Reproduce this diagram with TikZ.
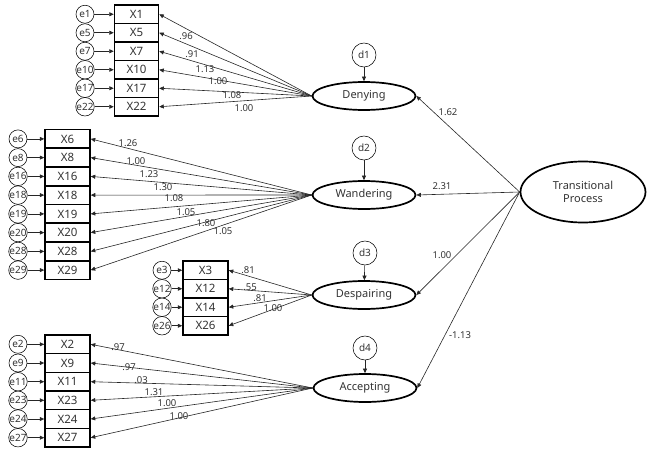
\documentclass[tikz,border=0pt]{standalone}
\usepackage{fontspec}
\setmainfont{Noto Sans}
\usetikzlibrary{arrows.meta,shapes.geometric}
\begin{document}
\begin{tikzpicture}[x=1pt,y=-1pt,
  obs/.style={draw, line width=1.5pt, minimum width=44pt, minimum height=18.6pt, inner sep=0pt, font=\fontsize{11.5}{12}\selectfont, text=black!80},
  err/.style={draw, circle, line width=0.55pt, minimum size=18pt, inner sep=0pt, font=\fontsize{10}{10}\selectfont, text=black!80},
  dist/.style={draw, circle, line width=0.55pt, minimum size=24pt, inner sep=0pt, font=\fontsize{10}{10}\selectfont, text=black!80},
  lat/.style={draw, ellipse, line width=1.7pt, minimum width=103pt, minimum height=28pt, inner sep=0pt, font=\fontsize{11}{13}\selectfont, text=black!80},
  arr/.style={-{Triangle[length=4.5pt,width=4pt]}, line width=0.6pt, draw=black!85},
  coef/.style={font=\fontsize{9.5}{10}\selectfont, text=black!80, inner sep=0pt},
]
\useasboundingbox (0,0) rectangle (651,455);

% latent variables
\node[lat] (den) at (364,96) {Denying};
\node[lat] (wan) at (364,195) {Wandering};
\node[lat] (des) at (364,295) {Despairing};
\node[lat] (acc) at (365,388) {Accepting};
\node[lat, minimum width=125pt, minimum height=61pt, align=center] (tp) at (583,192) {Transitional\\Process};

% disturbances
\node[dist] (d1) at (364,55) {d1};
\node[dist] (d2) at (364,148) {d2};
\node[dist] (d3) at (365,253) {d3};
\node[dist] (d4) at (365,348) {d4};
\draw[arr] (d1) -- (den);
\draw[arr] (d2) -- (wan);
\draw[arr] (d3) -- (des);
\draw[arr] (d4) -- (acc);

% structural paths
\draw[arr] (tp.west) -- (den.east);
\draw[arr] (tp.west) -- (wan.east);
\draw[arr] (tp.west) -- (des.east);
\draw[arr] (tp.west) -- (acc.east);

% Denying indicators
\foreach \n/\y in {1/14.25, 5/32.75, 7/51.25, 10/69.75, 17/88.25, 22/106.75} {
  \node[obs] (x\n) at (136.5,\y) {X\n};
  \node[err] (e\n) at (85,\y) {e\n};
  \draw[arr] (e\n) -- (x\n);
  \draw[arr] (den.west) -- (x\n.east);
}
% Wandering indicators
\foreach \n/\y in {6/138.9, 8/157.6, 16/176.4, 18/195.1, 19/213.9, 20/232.6, 28/251.4, 29/270.1} {
  \node[obs, minimum width=45pt] (x\n) at (67.5,\y) {X\n};
  \node[err] (e\n) at (18,\y) {e\n};
  \draw[arr] (e\n) -- (x\n);
  \draw[arr] (wan.west) -- (x\n.east);
}
% Despairing indicators
\foreach \n/\y in {3/270.25, 12/288.75, 14/307.25, 26/325.75} {
  \node[obs, minimum width=45pt] (x\n) at (205.5,\y) {X\n};
  \node[err] (e\n) at (162,\y) {e\n};
  \draw[arr] (e\n) -- (x\n);
  \draw[arr] (des.west) -- (x\n.east);
}
% Accepting indicators
\foreach \n/\y in {2/344.3, 9/363, 11/381.7, 23/400.3, 24/419, 27/437.7} {
  \node[obs, minimum width=45pt] (x\n) at (67.5,\y) {X\n};
  \node[err] (e\n) at (18,\y) {e\n};
  \draw[arr] (e\n) -- (x\n);
  \draw[arr] (acc.west) -- (x\n.east);
}

% coefficients
\node[coef] (c1) at (186,36) {.96};
\node[coef] (c2) at (192,54) {.91};
\node[coef] (c3) at (205,69) {1.13};
\node[coef] (c4) at (218,81) {1.00};
\node[coef] (c5) at (232,95) {1.08};
\node[coef] (c6) at (244,108) {1.00};

\node[coef] (c7) at (128,143) {1.26};
\node[coef] (c8) at (136,161) {1.00};
\node[coef] (c9) at (149,174) {1.23};
\node[coef] (c10) at (163,187) {1.30};
\node[coef] (c11) at (174,198) {1.08};
\node[coef] (c12) at (186,212) {1.05};
\node[coef] (c13) at (206,223) {1.80};
\node[coef] (c14) at (223,231) {1.05};

\node[coef] (c15) at (248,270) {.81};
\node[coef] (c16) at (250,287) {.55};
\node[coef] (c17) at (260,298) {.81};
\node[coef] (c18) at (273,308) {1.00};

\node[coef] (c19) at (118,347) {.97};
\node[coef] (c20) at (129,367) {.97};
\node[coef] (c21) at (141,380) {.03};
\node[coef] (c22) at (154,392) {1.31};
\node[coef] (c23) at (167,403) {1.00};
\node[coef] (c24) at (179,416) {1.00};

\node[coef] (s1) at (448,112) {1.62};
\node[coef] (s2) at (442,186) {2.31};
\node[coef] (s3) at (442,255) {1.00};
\node[coef] (s4) at (460,335) {-1.13};
\end{tikzpicture}
\end{document}
